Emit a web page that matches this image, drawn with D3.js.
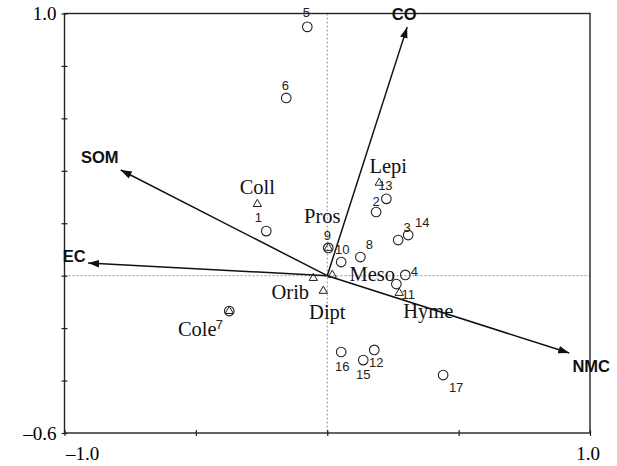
<!DOCTYPE html>
<html><head><meta charset="utf-8">
<script src="https://cdn.jsdelivr.net/npm/d3@7"></script>
<style>body{margin:0;background:#fff}</style>
</head><body>
<svg id="c" width="617" height="466"></svg>
<script>
// ---- data ----
const siteIds = ["1","2","3","4","5","6","7","8","9","10","11","12","13","14","15","16","17"];
const siteX = [-0.232,0.186,0.270,0.297,-0.076,-0.156,-0.373,0.126,0.004,0.053,0.263,0.179,0.225,0.308,0.137,0.053,0.441];
const siteY = [0.170,0.243,0.136,0.003,0.949,0.678,-0.135,0.071,0.106,0.052,-0.032,-0.283,0.293,0.155,-0.322,-0.291,-0.379];

const taxa = ["Coll","Pros","Lepi","Meso","Orib","Dipt","Hyme","Cole"];
const taxaX = [-0.266,0.004,0.198,0.019,-0.053,-0.015,0.274,-0.373];
const taxaY = [0.273,0.106,0.354,0.003,-0.009,-0.058,-0.066,-0.135];

const envVars = ["CO","SOM","EC","NMC"];
const envX = [0.304,-0.786,-0.910,0.921];
const envY = [0.948,0.403,0.048,-0.295];

const xTickLabels = ["-1.0","1.0"];
const yTickLabels = ["-0.6","1.0"];

// ---- layout (label offsets in px) ----
const siteOff = {"1":[-8,-14],"2":[0,-11],"3":[9,-13],"4":[9,-3],"5":[-1,-14],"6":[-1,-12],"7":[-10,13],
  "8":[9,-13],"9":[-1,-12],"10":[1,-13],"11":[12,10],"12":[2,13],"13":[-1,-13],"14":[14,-13],
  "15":[0,14],"16":[1,14],"17":[13,12]};
const taxaOff = {"Coll":[0,-17],"Pros":[-6,-32],"Lepi":[9,-17],"Meso":[40,-1],"Orib":[-23,14],
  "Dipt":[4,21],"Hyme":[29,18],"Cole":[-32,18]};
const envOff = {"CO":[-3,-13],"SOM":[-21,-13],"EC":[-14,-7],"NMC":[22,13]};

const svg = d3.select("#c");
const L=64.5,R=590,T=13.5,B=433;
const x = d3.scaleLinear().domain([-1,1]).range([L,R]);
const y = d3.scaleLinear().domain([-0.6,1]).range([B,T]);

// reference lines
svg.append("line").attr("x1",x(0)).attr("x2",x(0)).attr("y1",T).attr("y2",B)
  .attr("stroke","#777").attr("stroke-width",0.8).attr("stroke-dasharray","2,2");
svg.append("line").attr("x1",L).attr("x2",R).attr("y1",y(0)).attr("y2",y(0))
  .attr("stroke","#777").attr("stroke-width",0.8).attr("stroke-dasharray","2,2");

// frame
svg.append("rect").attr("x",L).attr("y",T).attr("width",R-L).attr("height",B-T)
  .attr("fill","none").attr("stroke","#222").attr("stroke-width",1.4);

// axes (crossing ticks)
const yt = d3.range(-0.6,1.0001,0.2);
const xt = [-1,-0.5,0,0.5,1];
[d3.axisLeft(y).tickValues(yt), d3.axisRight(y).tickValues(yt)].forEach(a=>{
  svg.append("g").attr("transform",`translate(${L},0)`).call(a.tickSize(3).tickFormat(""))
    .call(g=>{g.select(".domain").remove();g.selectAll("line").attr("stroke","#222").attr("stroke-width",1.2);});
});
[d3.axisBottom(x).tickValues(xt), d3.axisTop(x).tickValues(xt)].forEach(a=>{
  svg.append("g").attr("transform",`translate(0,${B})`).call(a.tickSize(3).tickFormat(""))
    .call(g=>{g.select(".domain").remove();g.selectAll("line").attr("stroke","#222").attr("stroke-width",1.2);});
});

const serif = "'Liberation Serif','Times New Roman',serif";
const sans = "'Liberation Sans',Arial,sans-serif";
// tick labels
svg.append("text").attr("x",L-8).attr("y",y(1)).attr("dy","0.35em").attr("text-anchor","end")
  .attr("font-family",serif).attr("font-size",19).text(yTickLabels[1]);
svg.append("text").attr("x",L-8).attr("y",y(-0.6)).attr("dy","0.35em").attr("text-anchor","end")
  .attr("font-family",serif).attr("font-size",19).text(yTickLabels[0].replace("-","\u2013"));
svg.append("text").attr("x",x(-1)+18).attr("y",B+20).attr("dy","0.35em").attr("text-anchor","middle")
  .attr("font-family",serif).attr("font-size",19).text(xTickLabels[0].replace("-","\u2013"));
svg.append("text").attr("x",x(1)-2).attr("y",B+20).attr("dy","0.35em").attr("text-anchor","middle")
  .attr("font-family",serif).attr("font-size",19).text(xTickLabels[1]);

// arrows
svg.append("defs").append("marker").attr("id","ah").attr("viewBox","0 0 10 10")
  .attr("refX",10).attr("refY",5).attr("markerWidth",11).attr("markerHeight",11)
  .attr("markerUnits","userSpaceOnUse").attr("orient","auto")
  .append("path").attr("d","M0,1.5L10,5L0,8.5Z").attr("fill","#111");
envVars.forEach((v,i)=>{
  svg.append("line").attr("x1",x(0)).attr("y1",y(0)).attr("x2",x(envX[i])).attr("y2",y(envY[i]))
    .attr("stroke","#111").attr("stroke-width",1.5).attr("marker-end","url(#ah)");
  svg.append("text").attr("x",x(envX[i])+envOff[v][0]).attr("y",y(envY[i])+envOff[v][1])
    .attr("dy","0.35em").attr("text-anchor","middle").attr("font-family",sans)
    .attr("font-weight","bold").attr("font-size",16.5).attr("fill","#111").text(v);
});

// sites
siteIds.forEach((s,i)=>{
  svg.append("circle").attr("cx",x(siteX[i])).attr("cy",y(siteY[i])).attr("r",4.8)
    .attr("fill","none").attr("stroke","#222").attr("stroke-width",1.1);
  svg.append("text").attr("x",x(siteX[i])+siteOff[s][0]).attr("y",y(siteY[i])+siteOff[s][1])
    .attr("dy","0.35em").attr("text-anchor","middle").attr("font-family",sans)
    .attr("font-size",13).attr("fill","#222").text(s);
});

// taxa
const tri = d3.symbol().type(d3.symbolTriangle).size(30);
taxa.forEach((t,i)=>{
  svg.append("path").attr("d",tri()).attr("transform",`translate(${x(taxaX[i])},${y(taxaY[i])})`)
    .attr("fill","none").attr("stroke","#222").attr("stroke-width",1);
  svg.append("text").attr("x",x(taxaX[i])+taxaOff[t][0]).attr("y",y(taxaY[i])+taxaOff[t][1])
    .attr("dy","0.35em").attr("text-anchor","middle").attr("font-family",serif)
    .attr("font-size",20.5).attr("fill","#111").text(t);
});
</script>
</body></html>
